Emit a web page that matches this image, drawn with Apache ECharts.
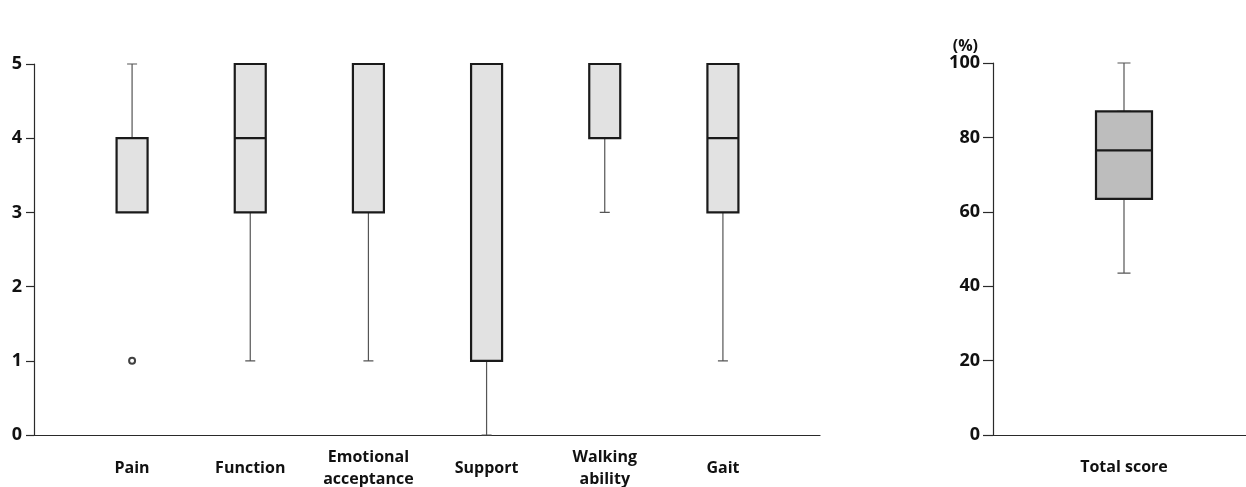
<!DOCTYPE html>
<html>
<head>
<meta charset="utf-8">
<script src="https://cdn.jsdelivr.net/npm/echarts@6/dist/echarts.min.js"></script>
<style>
  html, body { margin: 0; padding: 0; background: #fff; }
  #chart { width: 1246px; height: 487px; }
</style>
</head>
<body>
<div id="chart"></div>
<script>
// Domain scores (0–5): [min, Q1, median, Q3, max]
const domains = ['Pain', 'Function', 'Emotional\nacceptance', 'Support', 'Walking\nability', 'Gait'];
const pain = [3, 3, 3, 4, 5];
const func = [1, 3, 4, 5, 5];
const emotional = [1, 3, 3, 5, 5];
const support = [0, 1, 5, 5, 5];
const walking = [3, 4, 4, 5, 5];
const gait = [1, 3, 4, 5, 5];
const outliers = [['Pain', 1]];
const domainTicks = [0, 1, 2, 3, 4, 5];

// Total score (%)
const totalLabel = ['Total score'];
const total = [43.5, 63.5, 76.5, 87, 100];
const totalTicks = [0, 20, 40, 60, 80, 100];

const domainStats = [pain, func, emotional, support, walking, gait];
// Box body only: whiskers collapse onto the quartiles
const bodyOf = s => [s[1], s[1], s[2], s[3], s[3]];

const FONT = '"Open Sans", "Liberation Sans", sans-serif';
const AXIS_COLOR = '#2a2a2a';
const WHISKER_COLOR = '#555';

const hiddenAxis = { show: false };

const option = {
  animation: false,
  grid: [
    // frame of the domain panel (axis lines)
    { left: 34, right: 426, top: 64, bottom: 52, outerBoundsMode: 'none' },
    // box area of the domain panel
    { left: 73, width: 709, top: 64, bottom: 52, outerBoundsMode: 'none' },
    // total score panel
    { left: 993, width: 262, top: 63, bottom: 52, outerBoundsMode: 'none' }
  ],
  xAxis: [
    { gridIndex: 0, type: 'value', min: 0, max: 1,
      axisLine: { show: true, onZero: false, lineStyle: { color: AXIS_COLOR, width: 1.2 } },
      axisTick: { show: false }, axisLabel: { show: false }, splitLine: { show: false } },
    { gridIndex: 1, type: 'category', data: domains,
      axisLine: { show: false }, axisTick: { show: false }, splitLine: { show: false },
      axisLabel: { fontFamily: FONT, fontWeight: 'bold', fontSize: 16, color: '#111',
        verticalAlign: 'middle', margin: 33, lineHeight: 22, interval: 0 } },
    Object.assign({ gridIndex: 1, type: 'category', data: domains }, hiddenAxis),
    { gridIndex: 2, type: 'category', data: totalLabel,
      axisLine: { show: true, onZero: false, lineStyle: { color: AXIS_COLOR, width: 1.2 } },
      axisTick: { show: false }, splitLine: { show: false },
      axisLabel: { fontFamily: FONT, fontWeight: 'bold', fontSize: 16, color: '#111',
        verticalAlign: 'middle', margin: 32 } },
    Object.assign({ gridIndex: 2, type: 'category', data: totalLabel }, hiddenAxis)
  ],
  yAxis: [
    { gridIndex: 0, type: 'value', min: domainTicks[0], max: domainTicks[domainTicks.length - 1], interval: 1,
      axisLine: { show: true, lineStyle: { color: AXIS_COLOR, width: 1.2 } },
      axisTick: { show: true, length: 8, lineStyle: { color: AXIS_COLOR, width: 1.2 } },
      splitLine: { show: false },
      axisLabel: { fontFamily: FONT, fontWeight: 'bold', fontSize: 18, color: '#111', margin: 12 } },
    { gridIndex: 1, type: 'value', min: 0, max: 5, show: false, splitLine: { show: false } },
    { gridIndex: 2, type: 'value', min: totalTicks[0], max: totalTicks[totalTicks.length - 1], interval: 20,
      name: '(%)', nameLocation: 'end', nameGap: 6,
      nameTextStyle: { fontFamily: FONT, fontWeight: 'bold', fontSize: 16, color: '#111',
        align: 'right', verticalAlign: 'bottom', padding: [0, 15, 0, 0] },
      axisLine: { show: true, lineStyle: { color: AXIS_COLOR, width: 1.2 } },
      axisTick: { show: true, length: 10, lineStyle: { color: AXIS_COLOR, width: 1.2 } },
      splitLine: { show: false },
      axisLabel: { fontFamily: FONT, fontWeight: 'bold', fontSize: 18, color: '#111', margin: 13 } }
  ],
  series: [
    // whiskers with narrow caps
    { type: 'boxplot', xAxisIndex: 1, yAxisIndex: 1, z: 2,
      boxWidth: [10, 10], data: domainStats,
      itemStyle: { color: 'rgba(0,0,0,0)', borderColor: WHISKER_COLOR, borderWidth: 1.2 },
      emphasis: { disabled: true }, silent: true },
    // box bodies with median line
    { type: 'boxplot', xAxisIndex: 2, yAxisIndex: 1, z: 3,
      boxWidth: [31, 31], data: domainStats.map(bodyOf),
      itemStyle: { color: '#e2e2e2', borderColor: '#1a1a1a', borderWidth: 2.2 },
      emphasis: { disabled: true }, silent: true },
    // outlier
    { type: 'scatter', xAxisIndex: 1, yAxisIndex: 1, z: 4,
      data: outliers, symbol: 'emptyCircle', symbolSize: 6,
      itemStyle: { color: '#111', borderColor: '#111', borderWidth: 2 },
      emphasis: { disabled: true }, silent: true },
    // total score whiskers
    { type: 'boxplot', xAxisIndex: 3, yAxisIndex: 2, z: 2,
      boxWidth: [13, 13], data: [total],
      itemStyle: { color: 'rgba(0,0,0,0)', borderColor: WHISKER_COLOR, borderWidth: 1.2 },
      emphasis: { disabled: true }, silent: true },
    // total score box
    { type: 'boxplot', xAxisIndex: 4, yAxisIndex: 2, z: 3,
      boxWidth: [56, 56], data: [bodyOf(total)],
      itemStyle: { color: '#bdbdbd', borderColor: '#1a1a1a', borderWidth: 2.2 },
      emphasis: { disabled: true }, silent: true }
  ]
};

const chart = echarts.init(document.getElementById('chart'), null, { renderer: 'canvas' });
chart.setOption(option);
</script>
</body>
</html>
